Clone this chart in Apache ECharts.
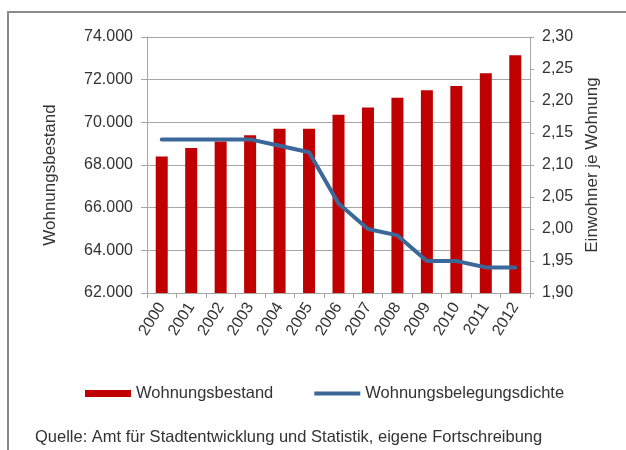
<!DOCTYPE html>
<html>
<head>
<meta charset="utf-8">
<script src="https://cdn.jsdelivr.net/npm/echarts@6/dist/echarts.min.js"></script>
<style>
  html, body { margin: 0; padding: 0; background: #fff; }
  #chart { width: 626px; height: 450px; }
</style>
</head>
<body>
<div id="chart"></div>
<script>
const years = ['2000', '2001', '2002', '2003', '2004', '2005', '2006', '2007', '2008', '2009', '2010', '2011', '2012'];
const wohnungsbestand = [68400, 68800, 69100, 69400, 69700, 69700, 70350, 70700, 71150, 71500, 71700, 72300, 73150];
const belegungsdichte = [2.14, 2.14, 2.14, 2.14, 2.13, 2.12, 2.04, 2.00, 1.99, 1.95, 1.95, 1.94, 1.94];
const quelle = 'Quelle: Amt für Stadtentwicklung und Statistik, eigene Fortschreibung';

const rot = '#C00000';
const blau = '#3B6899';
const grau = '#a6a6a6';
const schrift = '#333';
const font = '"Liberation Sans", Arial, sans-serif';

// Linien-Icon: 4px dicker Balken in einer 7px hohen Box
const linienIcon = 'path://M0,1.5H46V5.5H0Z M0,0H0.01V0.01H0Z M0,6.99H0.01V7H0Z';

const chart = echarts.init(document.getElementById('chart'));

chart.setOption({
  animation: false,
  textStyle: { fontFamily: font },
  grid: { left: 147, right: 96, top: 37, bottom: 157 },
  graphic: [
    {
      type: 'rect',
      shape: { x: 8, y: 12, width: 700, height: 600 },
      style: { fill: 'none', stroke: '#8a8a8a', lineWidth: 2 },
      silent: true
    },
    {
      type: 'text',
      left: 35,
      top: 429,
      style: { text: quelle, font: '16.5px ' + font, fill: schrift }
    }
  ],
  legend: {
    left: 80,
    top: 380,
    itemWidth: 46,
    itemHeight: 7,
    itemGap: 41,
    textStyle: { fontSize: 16.5, color: schrift, fontFamily: font },
    data: [
      { name: 'Wohnungsbestand', icon: 'rect' },
      { name: 'Wohnungsbelegungsdichte', icon: linienIcon }
    ]
  },
  xAxis: {
    type: 'category',
    data: years,
    axisLine: { lineStyle: { color: grau } },
    axisTick: { show: true, length: 5, lineStyle: { color: grau } },
    axisLabel: { rotate: 58, fontSize: 16, color: schrift, margin: 11 }
  },
  yAxis: [
    {
      type: 'value',
      min: 62000,
      max: 74000,
      interval: 2000,
      name: 'Wohnungsbestand',
      nameLocation: 'middle',
      nameGap: 88,
      nameTextStyle: { fontSize: 17, color: schrift, padding: [0, 20, 0, 0] },
      axisLine: { show: true, lineStyle: { color: grau } },
      axisTick: { show: true, length: 6, lineStyle: { color: grau } },
      splitLine: { lineStyle: { color: grau } },
      axisLabel: {
        fontSize: 16,
        color: schrift,
        margin: 14,
        formatter: v => String(v).replace(/\B(?=(\d{3})+(?!\d))/g, '.')
      }
    },
    {
      type: 'value',
      min: 1.9,
      max: 2.3,
      interval: 0.05,
      name: 'Einwohner je Wohnung',
      nameLocation: 'middle',
      nameRotate: 90,
      nameGap: 52,
      nameTextStyle: { fontSize: 17, color: schrift },
      axisLine: { show: true, lineStyle: { color: grau } },
      axisTick: { show: true, length: 4, lineStyle: { color: grau } },
      splitLine: { show: false },
      axisLabel: {
        fontSize: 16,
        color: schrift,
        margin: 12,
        formatter: v => v.toFixed(2).replace('.', ',')
      }
    }
  ],
  series: [
    {
      name: 'Wohnungsbestand',
      type: 'bar',
      data: wohnungsbestand,
      barWidth: 12,
      itemStyle: { color: rot }
    },
    {
      name: 'Wohnungsbelegungsdichte',
      type: 'line',
      yAxisIndex: 1,
      data: belegungsdichte,
      symbol: 'none',
      lineStyle: { color: blau, width: 4, cap: 'round', join: 'round' },
      itemStyle: { color: blau }
    }
  ]
});
</script>
</body>
</html>
